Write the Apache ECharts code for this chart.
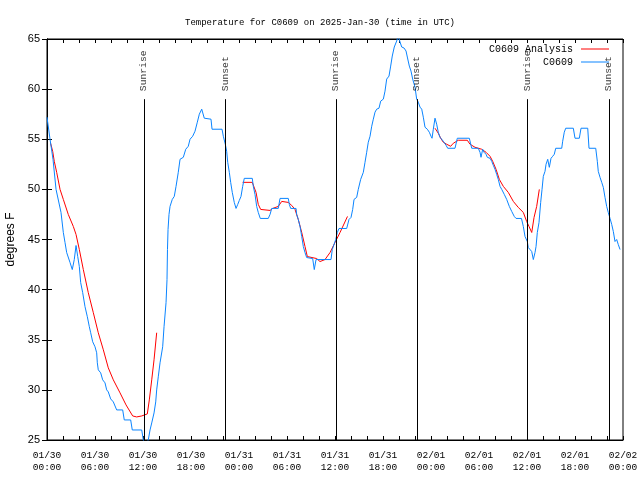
<!DOCTYPE html>
<html><head><meta charset="utf-8">
<script src="https://cdn.jsdelivr.net/npm/echarts@6/dist/echarts.min.js"></script>
<style>html,body{margin:0;padding:0;background:#fff}#c{width:640px;height:480px}</style>
</head><body><div id="c"></div>
<script>
// x tick labels (every 6 hours from 01/30 00:00 UTC)
const xTickLabels = ['01/30\n00:00','01/30\n06:00','01/30\n12:00','01/30\n18:00','01/31\n00:00','01/31\n06:00','01/31\n12:00','01/31\n18:00','02/01\n00:00','02/01\n06:00','02/01\n12:00','02/01\n18:00','02/02\n00:00'];

// Observed C0609 (hours since 01/30 00:00 UTC, deg F)
const obsHours = [0,0.16,0.38,0.75,1.13,1.75,2.04,2.25,2.46,2.88,3.16,3.41,3.63,3.84,4.04,4.21,4.46,4.75,5.04,5.29,5.46,5.71,6.0,6.21,6.29,6.41,6.71,6.96,7.25,7.46,7.66,7.96,8.29,8.71,9.46,9.66,10.46,10.66,11.84,12.04,12.3,12.5,12.66,12.88,13.09,13.38,13.59,13.71,13.91,14.13,14.46,14.63,14.88,15.0,15.06,15.13,15.25,15.38,15.66,15.91,16.13,16.41,16.63,17.04,17.34,17.66,17.88,18.21,18.5,18.79,19.04,19.34,19.46,19.66,20.5,20.63,21.88,22.04,22.29,22.46,22.59,22.79,22.96,23.16,23.41,23.63,23.84,24.04,24.25,24.46,24.66,25.66,25.79,26.0,26.21,26.41,26.66,27.66,27.88,28.09,28.91,29.13,30.16,30.29,30.46,31.13,31.21,31.41,31.63,31.84,32.04,32.25,32.46,33.21,33.41,33.63,35.5,35.66,35.91,36.09,36.29,36.5,37.46,37.75,38.0,38.21,38.38,38.71,38.91,39.21,39.54,39.75,39.96,40.16,40.38,40.59,40.79,41.0,41.21,41.5,41.71,42.04,42.25,42.46,42.75,42.96,43.16,43.41,43.71,43.91,44.13,44.34,44.63,44.88,45.04,45.29,45.5,45.71,46.0,46.21,46.41,46.63,46.84,47.04,47.25,47.54,47.79,48.0,48.13,48.29,48.5,48.71,48.91,49.13,49.54,49.88,50.09,51.0,51.29,52.79,53.09,53.91,54.13,54.25,54.46,54.63,54.88,55.04,55.38,55.59,55.79,56.0,56.21,56.41,56.63,56.84,57.16,57.46,57.79,58.09,58.41,58.63,59.31,59.54,59.75,60.04,60.16,60.38,60.59,60.79,61.0,61.13,61.29,61.5,61.71,61.88,62.04,62.25,62.38,62.59,62.79,63.0,63.21,63.41,63.59,64.34,64.46,64.66,64.84,65.79,66.0,66.54,66.75,67.59,67.75,68.59,68.79,68.91,69.13,69.34,69.54,69.75,69.96,70.16,70.38,70.59,70.79,71.0,71.21,71.41,71.63];
const obsTemps = [57.2,57.1,55,53,50,47.7,45.7,44.7,43.7,42.7,42.0,43,44.4,43.3,42.3,40.7,39.7,38.3,37.3,36.3,35.7,34.8,34.3,33.7,32.7,32.0,31.7,31.0,30.7,30.0,29.8,29.1,28.8,28.0,28.0,27.0,27.0,26.0,26.0,25.0,24.4,24.4,25.0,26,26.7,27.7,28.8,30,31.3,32.7,34.3,36.3,38.7,41,44,46,47.5,48.3,49,49.3,50.3,51.7,53,53.2,54,54.3,55,55.3,55.8,56.7,57.5,58,57.9,57.1,57,56,56,55.3,54.5,53.8,52.7,51.7,50.7,49.7,48.7,48.1,48.5,48.9,49.3,50.3,51.1,51.1,50.3,49.5,48.3,47.7,47.1,47.1,47.5,48.1,48.1,49.1,49.1,48.5,48.1,48.1,47.5,47,46.3,45.3,44.3,43.7,43.2,43.1,42,43,43,44,44,45,45.7,46.1,46.1,47,47.2,48,49,49.2,50,51,51.7,52.7,53.7,54.7,55.3,56.3,57,57.7,58,58.1,58.8,59,59.8,61,61.3,62.3,63.3,64.2,64.8,65.3,64.7,64.2,64.1,63.8,63.2,62.3,61.8,61,60.2,59,58.7,58.2,58,57.2,56.2,56,55.7,55.3,55.1,56,57.1,56.5,55.7,55.2,54.8,54.4,54.1,54.1,55.1,55.1,54.1,54.1,53.7,53.2,54,53.7,53.5,53.2,53.1,52.8,52.4,52,51.5,51,50.3,50,49.5,49,48.3,47.8,47.3,47.1,47.1,46.3,45.3,44.8,44.2,44,43.8,43,43.7,44.3,45.7,46.7,48.7,50,51.3,51.8,52.5,53,52.2,53.1,53.3,53.5,54.1,54.1,54.8,55.7,56.1,56.1,55.1,55.1,56.1,56.1,54.1,54.1,52.8,51.8,51.2,50.7,50.2,49.2,48.3,47.7,47.1,46.5,45.8,44.8,45,44.5,44];

// C0609 Analysis, three segments
const ana1Hours = [0.45,0.71,0.91,1.21,1.63,2.04,2.66,3.29,3.63,4.04,4.54,5.16,5.79,6.41,7.04,7.66,8.29,9.13,9.88,10.71,11.21,11.84,12.54,12.79,13.09,13.38,13.71];
const ana1Temps = [54.6,53.8,52.8,51.7,50,49,47.5,46.3,45.5,44,42,39.7,37.7,35.7,34,32.2,31,29.7,28.5,27.4,27.3,27.4,27.6,29,31,33,35.7];
const ana2Hours = [24.45,25.66,26.13,26.41,26.71,27.88,28.21,28.91,29.34,30.16,30.59,31.0,31.41,31.84,32.25,32.54,33.71,34.13,34.75,35.38,36.0,36.63,37.56];
const ana2Temps = [50.7,50.7,49.7,48.5,48,47.9,48.1,48.3,48.8,48.7,48.4,48,47,45.7,44.3,43.3,43.1,42.8,43,43.7,44.7,45.7,47.3];
const ana3Hours = [48.5,48.91,49.21,49.54,49.96,50.46,50.79,51.41,52.54,52.88,53.5,54.34,54.88,55.38,55.71,56.13,56.54,57.04,57.66,58.29,58.91,59.54,59.96,60.25,60.59,60.88,61.21,61.54];
const ana3Temps = [56.1,55.6,55.1,54.7,54.5,54.3,54.6,54.9,54.9,54.5,54.2,54,53.7,53.3,52.8,52,51,50.3,49.7,48.8,48.2,47.7,46.8,46.3,45.7,47.2,48.3,50];

// Sunrise / sunset events (hours since start)
const sunHours = [12.16,22.33,36.16,46.29,60.06,70.29];
const sunNames = ['Sunrise','Sunset','Sunrise','Sunset','Sunrise','Sunset'];

const zip = (hs, ts) => hs.map((h, i) => [h, ts[i]]);
const MONO = '"Liberation Mono", "DejaVu Sans Mono", monospace';
const SANS = '"Liberation Sans", Arial, sans-serif';
const RED = '#ff0000', BLUE = '#0a84ff';
const LINE_TOP = 59, LABEL_BASE = 59.75;

const anaSeries = [[ana1Hours, ana1Temps],[ana2Hours, ana2Temps],[ana3Hours, ana3Temps]].map(([h, t]) => ({
  type: 'line', name: 'C0609 Analysis', data: zip(h, t), symbol: 'none', showSymbol: false,
  color: RED, lineStyle: { color: RED, width: 1 }, z: 2, clip: true
}));

const chart = echarts.init(document.getElementById('c'), null, { renderer: 'canvas' });
chart.setOption({
  animation: false,
  backgroundColor: '#fff',
  title: {
    text: 'Temperature for C0609 on 2025-Jan-30 (time in UTC)',
    left: 'center', top: 13,
    textStyle: { fontFamily: MONO, fontSize: 9, fontWeight: 'normal', color: '#000' }
  },
  legend: {
    data: [
      { name: 'C0609 Analysis', icon: 'rect', itemStyle: { color: RED } },
      { name: 'C0609', icon: 'rect', itemStyle: { color: BLUE } }
    ],
    orient: 'vertical', right: 26, top: 38, align: 'right',
    itemWidth: 28, itemHeight: 1, itemGap: 1,
    textStyle: { fontFamily: MONO, fontSize: 10, color: '#000', lineHeight: 12, padding: [0, 3, 0, 0] },
    selectedMode: false
  },
  grid: { left: 47, right: 17, top: 39, bottom: 40, outerBoundsMode: 'none', containLabel: false, show: true, borderColor: '#000', borderWidth: 1, backgroundColor: 'transparent' },
  xAxis: [{
    type: 'value', min: 0, max: 72, interval: 2, position: 'bottom',
    axisLine: { show: true, lineStyle: { color: '#000', width: 1 } },
    axisTick: { show: true, inside: true, length: 4, lineStyle: { color: '#000' } },
    splitLine: { show: false },
    axisLabel: {
      color: '#000', fontFamily: MONO, fontSize: 9.5, lineHeight: 12, margin: 9,
      formatter: v => (Math.round(v) % 6 === 0 ? xTickLabels[Math.round(v) / 6] : '')
    }
  }, {
    type: 'value', min: 0, max: 72, interval: 2, position: 'top',
    axisLine: { show: true, lineStyle: { color: '#000', width: 1 } },
    axisTick: { show: true, inside: true, length: 4, lineStyle: { color: '#000' } },
    splitLine: { show: false }, axisLabel: { show: false }
  }],
  yAxis: [{
    type: 'value', min: 25, max: 65, interval: 5, position: 'left',
    name: 'degrees F', nameLocation: 'middle', nameRotate: 90, nameGap: 30,
    nameTextStyle: { fontFamily: SANS, fontSize: 12, color: '#000' },
    axisLine: { show: true, lineStyle: { color: '#000', width: 1 } },
    axisTick: { show: true, inside: true, length: 5, lineStyle: { color: '#000' } },
    splitLine: { show: false },
    axisLabel: { color: '#000', fontFamily: SANS, fontSize: 11, margin: 7 }
  }, {
    type: 'value', min: 25, max: 65, interval: 5, position: 'right',
    axisLine: { show: true, lineStyle: { color: '#000', width: 1 } },
    axisTick: { show: true, inside: true, length: 5, lineStyle: { color: '#000' } },
    splitLine: { show: false }, axisLabel: { show: false }
  }],
  series: [
    ...anaSeries,
    {
      type: 'line', name: 'C0609', data: zip(obsHours, obsTemps), symbol: 'none', showSymbol: false,
      color: BLUE, lineStyle: { color: BLUE, width: 1 }, z: 3, clip: true
    },
    {
      type: 'scatter', name: 'sun', silent: true, z: 4,
      data: sunHours.map(h => [h, LABEL_BASE]),
      symbolSize: 1, itemStyle: { color: 'rgba(0,0,0,0)' },
      label: {
        show: true, position: [0, 0], rotate: 90, align: 'left', verticalAlign: 'middle',
        formatter: p => sunNames[p.dataIndex],
        fontFamily: MONO, fontSize: 9.7, color: '#000'
      },
      markLine: {
        silent: true, symbol: ['none', 'none'], animation: false,
        lineStyle: { color: '#000', width: 1, type: 'solid' },
        label: { show: false },
        data: sunHours.map(h => [{ coord: [h, 25] }, { coord: [h, LINE_TOP] }])
      }
    }
  ]
});
</script></body></html>
